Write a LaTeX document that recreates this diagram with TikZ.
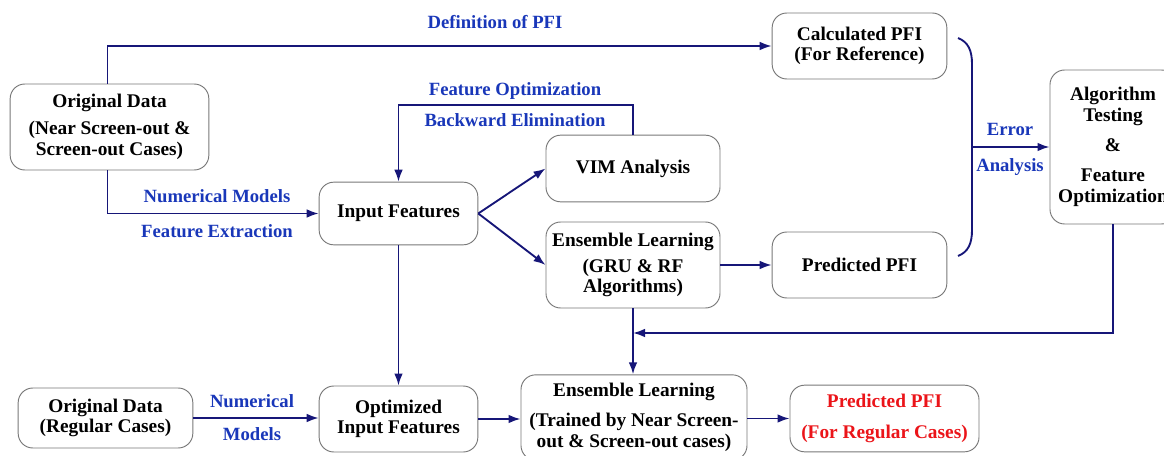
\documentclass[tikz,border=0pt]{standalone}
\usepackage{fontspec}
\setmainfont{Liberation Serif}
\usetikzlibrary{arrows.meta}
\definecolor{linecol}{RGB}{22,22,120}
\definecolor{boxcol}{RGB}{120,120,120}
\definecolor{lblblue}{RGB}{25,55,185}
\definecolor{lblred}{RGB}{235,20,25}
\tikzset{
  box/.style={draw=boxcol, line width=0.7pt, rounded corners=11pt, align=center,
    font=\fontsize{14.5}{15.5}\selectfont\bfseries, inner sep=0pt},
  arr/.style={draw=linecol, line width=1.4pt, -{Latex[length=9pt,width=6.5pt]}},
  plainline/.style={draw=linecol, line width=1.4pt},
  lbl/.style={text=lblblue, font=\fontsize{14}{15}\selectfont\bfseries, inner sep=0pt}
}
\begin{document}
\begin{tikzpicture}[x=0.75pt,y=-0.75pt]
\useasboundingbox (0,0) rectangle (1164,456);
\clip (0,0) rectangle (1164,456);
% nodes
\node[box, minimum width=149pt, minimum height=64.5pt] (od1) at (109.5,127)
  {Original Data\\[5pt](Near Screen-out \&\\Screen-out Cases)};
\node[box, minimum width=119pt, minimum height=47pt] (inp) at (398.5,213.5) {Input Features};
\node[box, minimum width=130.5pt, minimum height=50pt] (vim) at (633,168.5) {VIM Analysis};
\node[box, minimum width=130.5pt, minimum height=64.5pt] (ens1) at (633,265)
  {Ensemble Learning\\[4pt](GRU \& RF\\Algorithms)};
\node[box, minimum width=131pt, minimum height=49.5pt] (calc) at (859.5,46)
  {Calculated PFI\\(For Reference)};
\node[box, minimum width=131pt, minimum height=49.5pt] (pred) at (859.5,265) {Predicted PFI};
\node[box, minimum width=94.5pt, minimum height=115.5pt] (alg) at (1113,147)
  {Algorithm\\Testing\\[7pt]\&\\[7pt]Feature\\Optimization};
\node[box, minimum width=131pt, minimum height=45pt] (od2) at (105.5,418)
  {Original Data\\(Regular Cases)};
\node[box, minimum width=119pt, minimum height=49.5pt] (opt) at (398.5,419)
  {Optimized\\Input Features};
\node[box, minimum width=169.5pt, minimum height=64pt] (ens2) at (634,417.5)
  {Ensemble Learning\\[7pt](Trained by Near Screen-\\out \& Screen-out cases)};
\node[box, minimum width=141.75pt, minimum height=50pt, text=lblred] (red) at (884.5,418.5)
  {Predicted PFI\\[8pt](For Regular Cases)};
% labels
\node[lbl] (l1) at (495,22) {Definition of PFI};
\node[lbl] (l2) at (515,91) {Feature Optimization};
\node[lbl] (l3) at (515,120) {Backward Elimination};
\node[lbl] (l4) at (217,196) {Numerical Models};
\node[lbl] (l5) at (217,231) {Feature Extraction};
\node[lbl] (l6) at (1010,129) {Error};
\node[lbl] (l7) at (1010,167) {Analysis};
\node[lbl] (l8) at (252,401) {Numerical};
\node[lbl] (l9) at (252,434) {Models};
% connectors
\draw[arr] ([xshift=-1.5]od1.north) |- (calc.west);
\draw[arr] ([xshift=-1.5]od1.south) |- (inp.west);
\draw[arr] (vim.north) -- ++(0,-30) -| (inp.north);
\draw[arr] (inp.east) -- (vim.west);
\draw[arr] (inp.east) -- (ens1.west);
\draw[arr] (ens1.east) -- (pred.west);
\draw[arr] (inp.south) -- (opt.north);
\draw[arr] (ens1.south) -- (ens1.south |- ens2.north);
\coordinate (j) at (ens1.south |- 0,333);
\draw[arr] (alg.south) |- (j);
% bracket
\coordinate (bt) at (958,38);
\coordinate (bb) at (958,256);
\coordinate (bm) at (972,147);
\draw[plainline] (bt) .. controls (968,42) and (972,50) .. (972,64) -- (972,230) .. controls (972,244) and (968,252) .. (bb);
\draw[arr] (bm) -- (alg.west);
\draw[arr] (od2.east) -- (od2.east -| opt.west);
\draw[arr] (opt.east) -- (opt.east -| ens2.west);
\draw[arr] (ens2.east |- red.west) -- (red.west);
\end{tikzpicture}
\end{document}
